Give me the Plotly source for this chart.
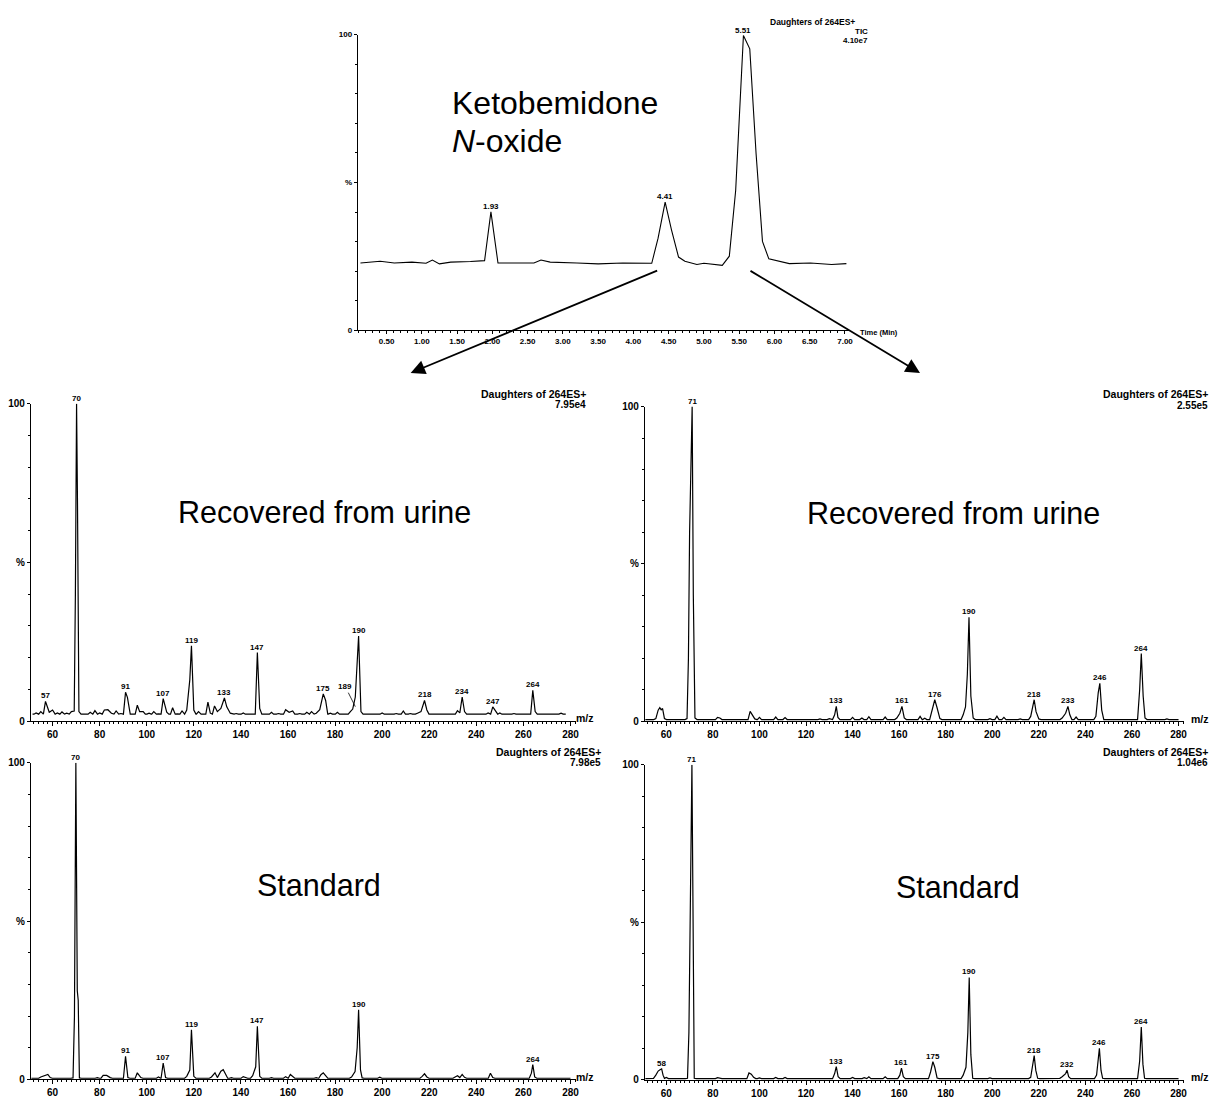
import plotly.graph_objects as go

W, H = 1228, 1103
FAM = "Liberation Sans, Arial, Helvetica, sans-serif"

# ---------------- data ----------------
# Total ion chromatogram (time in min, relative intensity %)
TIC_TIME = [0.13, 0.41, 0.61, 0.86, 1.06, 1.15, 1.25, 1.41, 1.69, 1.89, 1.98, 2.08,
            2.29, 2.59, 2.69, 2.82, 3.20, 3.50, 3.85, 4.26, 4.35, 4.45, 4.54, 4.64,
            4.73, 4.90, 5.00, 5.26, 5.36, 5.45, 5.56, 5.65, 5.74, 5.83, 5.92, 6.21,
            6.51, 6.81, 7.02]
TIC_PCT = [22.8, 23.4, 22.8, 23.1, 22.7, 23.8, 22.5, 23.1, 23.3, 23.6, 40.1, 22.8,
           22.8, 22.8, 23.8, 23.1, 22.8, 22.5, 22.8, 22.7, 31.2, 43.4, 34.0, 24.8,
           23.4, 22.3, 22.7, 22.0, 25.1, 47.3, 99.7, 95.2, 59.6, 30.1, 24.2, 22.6,
           22.8, 22.3, 22.6]
TIC_PEAK_LABELS = ["1.93", "4.41", "5.51"]
TIC_TICKS = [0.5, 1.0, 1.5, 2.0, 2.5, 3.0, 3.5, 4.0, 4.5, 5.0, 5.5, 6.0, 6.5, 7.0]

MZ_TICKS = [60, 80, 100, 120, 140, 160, 180, 200, 220, 240, 260, 280]

# Spectrum: recovered from urine, peak at 4.41 min  (m/z, %)
TL_PEAKS = [(53, 2.6), (55, 3.0), (57, 6.2), (58.6, 2.8), (60, 3.5), (62, 2.6), (64, 2.9),
            (66, 2.5), (68, 3.0), (69.2, 3.2), (69.7, 40), (70.2, 100), (70.6, 68),
            (71.2, 3.0), (74, 2.4), (76, 2.8), (78, 3.3), (80, 2.6), (82, 3.5), (83.5, 3.6),
            (85, 2.5), (87, 3.2), (89, 2.4), (91, 9.1), (91.8, 7.5), (93, 2.2), (96, 5.0),
            (97, 3.0), (98.5, 3.0), (101, 2.5), (103, 3.0), (105, 2.3), (107, 7.1),
            (108.5, 2.8), (111, 4.2), (113, 2.3), (115, 3.2), (117, 3.5), (118.3, 13),
            (119, 23.7), (120, 3.5), (122, 3.0), (124, 2.2), (126, 6.0), (127, 2.5),
            (128.8, 4.8), (130, 3.0), (131.5, 4.0), (133, 7.3), (134, 4.5), (135.5, 2.5),
            (138, 2.4), (141, 2.6), (144, 2.4), (147, 21.6), (148, 4.0), (150, 2.3),
            (153, 2.8), (156, 2.4), (159, 3.6), (160.5, 2.8), (162, 3.2), (165, 2.4),
            (168, 2.8), (170, 3.0), (172, 2.5), (173.5, 3.6), (175, 8.6), (176, 6.5),
            (178, 2.5), (181, 2.8), (184, 2.3), (186.5, 3.0), (187.5, 3.8), (188.6, 7.6),
            (190, 26.8), (191, 3.0), (194, 2.2), (197, 2.4), (200, 2.6), (203, 2.3),
            (206, 2.4), (209, 3.2), (212, 2.4), (215, 2.5), (216.5, 3.0), (218, 6.5),
            (219, 3.5), (221, 2.4), (224, 2.2), (227, 2.4), (230, 2.3), (232, 3.3),
            (233, 2.6), (234, 7.6), (235, 3.0), (237, 2.2), (240, 2.4), (243, 2.3),
            (245, 2.6), (247, 4.5), (248, 3.2), (250, 2.6), (253, 2.3), (256, 2.4),
            (259, 2.3), (262, 2.4), (264, 9.7), (265, 3.0), (267, 2.3), (270, 2.4),
            (273, 2.3), (276, 2.5)]
TL_BASE = 2.2
TL_SPAN = (51.5, 278)
TL_LABELS = ["57", "70", "91", "107", "119", "133", "147", "175", "190", "218", "234", "247", "264"]
TL_LEADER = ("189", 188.6)

# Spectrum: recovered from urine, peak at 5.51 min
TR_PEAKS = [(55.5, 0.8), (56.5, 3.5), (57.2, 4.3), (57.8, 3.6), (58.4, 4.0), (59.2, 0.8),
            (68.9, 0.8), (69.5, 20), (70.0, 60), (70.6, 85), (71.1, 100), (71.6, 40),
            (72.3, 1.0), (76, 0.6), (82, 1.2), (83, 1.0), (87, 0.6), (96, 3.1), (97, 1.8),
            (98, 0.7), (100, 1.2), (107, 1.3), (111, 1.1), (114, 0.6), (120, 0.6),
            (126, 0.7), (130, 0.8), (132.3, 2.0), (133, 4.7), (133.7, 1.2), (137, 0.6),
            (140, 1.2), (144, 1.0), (147, 1.4), (150, 0.6), (154, 1.3), (159, 1.0),
            (160.3, 2.5), (161.2, 4.7), (162.2, 1.0), (165, 0.6), (169, 1.5), (171, 0.9),
            (174, 3.5), (175.3, 6.8), (176.2, 4.5), (177.5, 0.8), (180, 0.6), (184, 0.6),
            (187.5, 2.0), (188.5, 4.5), (189.3, 15), (190, 33), (190.8, 8), (191.8, 1.0),
            (196, 0.6), (199, 0.8), (202, 1.6), (205, 1.2), (209, 0.6), (212, 0.7),
            (216.5, 1.5), (217.4, 5.5), (218, 6.8), (218.8, 3.0), (220, 0.7), (224, 0.6),
            (230, 1.0), (231.5, 2.5), (232.5, 4.7), (233.3, 2.0), (236, 1.3), (240, 0.6),
            (244.5, 1.5), (245.5, 9.0), (246.2, 12), (247, 3.5), (250, 0.6), (255, 0.6),
            (260, 0.6), (263.3, 10), (264, 21.5), (264.8, 8.0), (265.6, 1.0), (270, 0.6),
            (275, 0.7), (279, 0.6)]
TR_BASE = 0.5
TR_SPAN = (51.0, 280)
TR_LABELS = ["71", "133", "161", "176", "190", "218", "233", "246", "264"]

# Spectrum: standard, peak at 4.41 min
BL_PEAKS = [(55, 0.8), (56.5, 1.3), (58, 1.6), (59, 0.6), (68.7, 0.5), (69.3, 20),
            (69.9, 100), (70.5, 28), (70.9, 25), (71.4, 0.5), (79, 0.6), (81.5, 1.3),
            (83, 1.3), (84.5, 0.6), (91, 7.3), (92, 0.6), (96, 2.1), (97.5, 0.6),
            (105, 0.8), (107, 5.2), (108, 0.6), (117, 1.0), (118.3, 3.0), (119, 15.7),
            (120, 1.0), (124, 0.5), (127.5, 0.8), (129, 2.1), (130, 0.6), (131.5, 2.6),
            (132.5, 3.1), (133.5, 1.8), (136, 0.6), (141, 0.9), (142, 0.6), (145, 1.2),
            (146.3, 4.0), (147, 16.8), (148, 1.0), (153, 0.6), (159, 0.9), (161, 1.6),
            (162, 0.8), (172, 0.6), (174, 1.5), (175, 2.1), (176, 1.2), (187, 0.8),
            (188.5, 2.5), (189.4, 10), (190, 22), (190.8, 3.0), (191.5, 0.5), (199, 0.7),
            (208, 0.4), (217, 1.0), (218, 1.8), (219, 0.8), (229, 0.5), (231, 0.8),
            (232, 1.2), (233, 0.6), (234, 1.6), (235, 0.7), (246, 2.0), (247, 0.6),
            (263.4, 2.0), (264, 4.7), (264.8, 0.8), (270, 0.4)]
BL_BASE = 0.4
BL_SPAN = (51.0, 280)
BL_LABELS = ["70", "91", "107", "119", "147", "190", "264"]

# Spectrum: standard, peak at 5.51 min
BR_PEAKS = [(54.5, 0.5), (55.5, 1.5), (56.5, 2.8), (57.3, 3.2), (58, 3.5), (58.6, 1.5),
            (59.2, 0.5), (60, 0.8), (69.1, 0.5), (69.7, 15), (70.3, 52), (71.0, 100),
            (71.5, 50), (72.0, 0.5), (82, 0.7), (83, 0.5), (87, 0.4), (95.5, 2.2),
            (96.5, 1.8), (97.5, 0.8), (100, 0.6), (107, 0.8), (111, 0.8), (121, 0.5),
            (125, 0.5), (132.3, 2.0), (133, 4.2), (133.8, 1.0), (140, 0.8), (145, 0.7),
            (147, 1.0), (154, 1.0), (160.3, 1.5), (161, 3.7), (161.8, 1.0), (173.5, 2.5),
            (174.5, 5.8), (175.3, 4.0), (176.3, 0.6), (187.5, 1.5), (188.7, 4.0),
            (189.5, 15), (190.1, 32.5), (190.8, 8.0), (191.6, 0.5), (199, 0.6),
            (216.5, 0.8), (217.4, 5.0), (218, 7.7), (218.7, 3.0), (219.5, 0.5), (229, 0.5),
            (230, 1.0), (231.5, 2.0), (232.1, 3.1), (232.8, 1.0), (244.8, 1.5), (245.5, 7.0),
            (246, 10), (246.7, 3.0), (247.4, 0.5), (263.3, 6.0), (264, 16.8), (264.7, 5.0),
            (265.4, 0.5), (275, 0.4)]
BR_BASE = 0.4
BR_SPAN = (51.0, 280)
BR_LABELS = ["58", "71", "133", "161", "175", "190", "218", "232", "246", "264"]

HEADER_TITLE = "Daughters of 264ES+"
TIC_HEADER = ["TIC", "4.10e7"]
SCALES = {"TL": "7.95e4", "TR": "2.55e5", "BL": "7.98e5", "BR": "1.04e6"}
PANEL_TEXT = {"TL": "Recovered from urine", "TR": "Recovered from urine",
              "BL": "Standard", "BR": "Standard"}

# ---------------- helpers ----------------
def px(xp):
    return xp / W


def py(yp):
    return 1 - yp / H


def profile(peaks, base, span, hw):
    pk = sorted(peaks)
    xs, ys = [span[0]], [base]
    for i, (m, h) in enumerate(pk):
        prev_close = i > 0 and m - pk[i - 1][0] < 2 * hw
        next_close = i < len(pk) - 1 and pk[i + 1][0] - m < 2 * hw
        if not prev_close:
            xs.append(m - hw)
            ys.append(base)
        xs.append(m)
        ys.append(h)
        if not next_close:
            xs.append(m + hw)
            ys.append(base)
    xs.append(span[1])
    ys.append(base)
    return xs, ys


def apex(peaks, target, tol=1.6):
    c = [p for p in peaks if abs(p[0] - target) <= tol]
    return max(c, key=lambda p: p[1])


BOLD = "bold"
black = "black"

fig = go.Figure()

# ---- chromatogram ----
fig.add_trace(go.Scatter(x=TIC_TIME, y=TIC_PCT, mode="lines",
                         line=dict(color=black, width=1.1), xaxis="x", yaxis="y",
                         hoverinfo="skip"))

panels = {
    "TL": dict(peaks=TL_PEAKS, base=TL_BASE, span=TL_SPAN, labels=TL_LABELS, ax="2",
               dx=(31, 578), dy=(723, 402), hw=0.9),
    "TR": dict(peaks=TR_PEAKS, base=TR_BASE, span=TR_SPAN, labels=TR_LABELS, ax="3",
               dx=(647, 1188), dy=(723, 405), hw=0.9),
    "BL": dict(peaks=BL_PEAKS, base=BL_BASE, span=BL_SPAN, labels=BL_LABELS, ax="4",
               dx=(31, 578), dy=(1085.3, 765), hw=0.9),
    "BR": dict(peaks=BR_PEAKS, base=BR_BASE, span=BR_SPAN, labels=BR_LABELS, ax="5",
               dx=(647, 1188), dy=(1085.7, 767), hw=0.9),
}

MZ_RANGE = [50.8, 282.4]

layout = dict(
    width=W, height=H, margin=dict(l=0, r=0, t=0, b=0),
    paper_bgcolor="white", plot_bgcolor="white", showlegend=False,
    font=dict(family=FAM, color=black),
)

layout["xaxis"] = dict(
    domain=[px(359), px(852)], anchor="y", range=[0.093, 7.06],
    showline=True, linecolor=black, linewidth=1, showgrid=False, zeroline=False,
    tickmode="array", tickvals=TIC_TICKS, ticktext=["%.2f" % t for t in TIC_TICKS],
    ticks="outside", ticklen=3, tickcolor=black, tickwidth=1,
    minor=dict(tickmode="linear", tick0=0, dtick=0.1, ticks="outside", ticklen=2,
               tickcolor=black),
    tickfont=dict(family=FAM, size=8, color=black, weight=BOLD),
)
layout["yaxis"] = dict(
    domain=[py(328), py(29)], anchor="x", range=[0, 100],
    showline=True, linecolor=black, linewidth=1, showgrid=False, zeroline=False,
    tickmode="array", tickvals=[0, 50, 100], ticktext=["0", "%", "100"],
    ticks="outside", ticklen=3, tickcolor=black,
    minor=dict(tickmode="linear", tick0=0, dtick=10, ticks="outside", ticklen=1.5,
               tickcolor=black),
    tickfont=dict(family=FAM, size=8, color=black, weight=BOLD),
)

annotations = []

# chromatogram labels
tic_pts = list(zip(TIC_TIME, TIC_PCT))
for lab in TIC_PEAK_LABELS:
    t, v = apex(tic_pts, float(lab), tol=0.2)
    annotations.append(dict(x=t, y=v, xref="x", yref="y", text=lab, showarrow=False,
                            yanchor="bottom", yshift=-1,
                            font=dict(family=FAM, size=8, color=black, weight=BOLD)))

annotations.append(dict(x=px(860), y=py(16), xref="paper", yref="paper",
                        text=HEADER_TITLE, showarrow=False, xanchor="right",
                        yanchor="middle",
                        font=dict(family=FAM, size=8.5, color=black, weight=BOLD)))
annotations.append(dict(x=px(873), y=py(26), xref="paper", yref="paper",
                        text=TIC_HEADER[0], showarrow=False, xanchor="right",
                        yanchor="middle",
                        font=dict(family=FAM, size=8, color=black, weight=BOLD)))
annotations.append(dict(x=px(873), y=py(35), xref="paper", yref="paper",
                        text=TIC_HEADER[1], showarrow=False, xanchor="right",
                        yanchor="middle",
                        font=dict(family=FAM, size=8, color=black, weight=BOLD)))
annotations.append(dict(x=px(861), y=py(330), xref="paper", yref="paper",
                        text="Time (Min)", showarrow=False, xanchor="left",
                        yanchor="middle",
                        font=dict(family=FAM, size=7.5, color=black, weight=BOLD)))
annotations.append(dict(x=px(451), y=py(98), xref="paper", yref="paper",
                        text="Ketobemidone", showarrow=False, xanchor="left",
                        yanchor="middle", font=dict(family=FAM, size=32, color=black)))
annotations.append(dict(x=px(451), y=py(136), xref="paper", yref="paper",
                        text="<i>N</i>-oxide", showarrow=False, xanchor="left",
                        yanchor="middle", font=dict(family=FAM, size=32, color=black)))

# arrows from chromatogram peaks to spectra
annotations.append(dict(x=px(412), y=py(371), xref="paper", yref="paper", text="",
                        showarrow=True, ax=660 - 412, ay=268 - 371, arrowhead=2,
                        arrowsize=1.6, arrowwidth=1.8, arrowcolor=black, standoff=0))
annotations.append(dict(x=px(923), y=py(371), xref="paper", yref="paper", text="",
                        showarrow=True, ax=752 - 923, ay=268 - 371, arrowhead=2,
                        arrowsize=1.6, arrowwidth=1.8, arrowcolor=black, standoff=0))

header_right = {"TL": 590, "TR": 1214, "BL": 605, "BR": 1214}
header_y = {"TL": (392, 403), "TR": (392, 404), "BL": (754, 765), "BR": (754, 765)}
mz_label = {"TL": (576, 720), "TR": (1193, 721), "BL": (576, 1083), "BR": (1193, 1083)}
big_text = {"TL": (326, 512), "TR": (957, 513), "BL": (320, 889), "BR": (961, 891)}

for key, p in panels.items():
    n = p["ax"]
    xs, ys = profile(p["peaks"], p["base"], p["span"], p["hw"])
    fig.add_trace(go.Scatter(x=xs, y=ys, mode="lines",
                             line=dict(color=black, width=1.2), xaxis="x" + n,
                             yaxis="y" + n, hoverinfo="skip"))
    layout["xaxis" + n] = dict(
        domain=[px(p["dx"][0]), px(p["dx"][1])], anchor="y" + n, range=MZ_RANGE,
        showline=True, linecolor=black, linewidth=1, showgrid=False, zeroline=False,
        tickmode="array", tickvals=MZ_TICKS, ticktext=[str(v) for v in MZ_TICKS],
        ticks="outside", ticklen=4, tickcolor=black, tickwidth=1,
        minor=dict(tickmode="linear", tick0=0, dtick=2, ticks="outside", ticklen=2,
                   tickcolor=black),
        tickfont=dict(family=FAM, size=10, color=black, weight=BOLD),
    )
    layout["yaxis" + n] = dict(
        domain=[py(p["dy"][0]), py(p["dy"][1])], anchor="x" + n, range=[0, 100],
        showline=True, linecolor=black, linewidth=1, showgrid=False, zeroline=False,
        tickmode="array", tickvals=[0, 50, 100], ticktext=["0", "%", "100"],
        ticks="outside", ticklen=3, tickcolor=black,
        minor=dict(tickmode="linear", tick0=0, dtick=10, ticks="outside", ticklen=1.5,
                   tickcolor=black),
        tickfont=dict(family=FAM, size=10, color=black, weight=BOLD),
    )
    for lab in p["labels"]:
        m, v = apex(p["peaks"], float(lab))
        annotations.append(dict(x=m, y=v, xref="x" + n, yref="y" + n, text=lab,
                                showarrow=False, yanchor="bottom", yshift=-1,
                                font=dict(family=FAM, size=8, color=black, weight=BOLD)))
    annotations.append(dict(x=px(header_right[key]), y=py(header_y[key][0]), xref="paper",
                            yref="paper", text=HEADER_TITLE, showarrow=False,
                            xanchor="right", yanchor="middle",
                            font=dict(family=FAM, size=10.5, color=black, weight=BOLD)))
    annotations.append(dict(x=px(header_right[key]), y=py(header_y[key][1]), xref="paper",
                            yref="paper", text=SCALES[key], showarrow=False,
                            xanchor="right", yanchor="middle",
                            font=dict(family=FAM, size=10, color=black, weight=BOLD)))
    annotations.append(dict(x=px(mz_label[key][0]), y=py(mz_label[key][1]), xref="paper",
                            yref="paper", text="m/z", showarrow=False,
                            xanchor="left", yanchor="middle",
                            font=dict(family=FAM, size=10.5, color=black, weight=BOLD)))
    annotations.append(dict(x=px(big_text[key][0]), y=py(big_text[key][1]), xref="paper",
                            yref="paper", text=PANEL_TEXT[key], showarrow=False,
                            xanchor="center", yanchor="middle",
                            font=dict(family=FAM, size=30.5, color=black)))

# leader label for the 189 shoulder in the top-left spectrum
lm = TL_LEADER[1]
lv = [v for m, v in TL_PEAKS if m == lm][0]
annotations.append(dict(x=lm, y=lv * 0.6, xref="x2", yref="y2", text=TL_LEADER[0],
                        showarrow=True, ax=-10, ay=-20, arrowhead=0, arrowwidth=0.8,
                        arrowcolor=black, standoff=0,
                        font=dict(family=FAM, size=8, color=black, weight=BOLD)))

layout["annotations"] = annotations
fig.update_layout(**layout)
fig.write_html("out.html")
